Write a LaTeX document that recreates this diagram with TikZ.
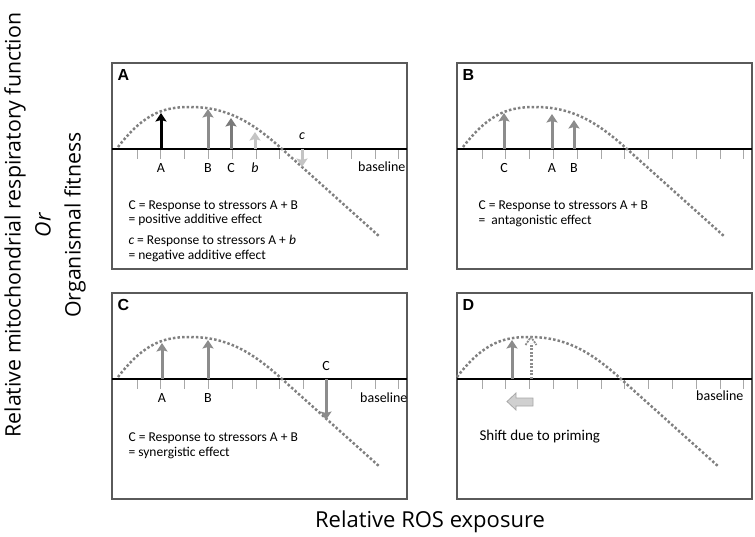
\documentclass[tikz,border=0pt]{standalone}
\usepackage{fontspec}
\setmainfont{Carlito}
\newfontfamily\panelfont{Liberation Sans}
\newfontfamily\titlefont{Open Sans}
\usetikzlibrary{arrows.meta}
\definecolor{boxgray}{HTML}{5A5A5A}
\definecolor{tickgray}{HTML}{A8A8A8}
\definecolor{curvegray}{HTML}{808080}
\definecolor{midgray}{HTML}{8C8C8C}
\definecolor{darkgray}{HTML}{7A7A7A}
\definecolor{lightgray}{HTML}{C4C4C4}
% frame, axis and ticks of one panel
\newcommand{\panelbox}{%
  \draw[frame] (112,63) rectangle (407,269);
  \draw[axis] (112,149) -- (407,149);
  \foreach \k in {0,...,11} \draw[tick] ({137+23.8*\k},150) -- ++(0,9);
}
% response curve
\newcommand{\roscurve}{%
  \draw[curve] (118,147) .. controls (145,112) and (165,107) .. (190,107)
    .. controls (225,107) and (250,120) .. (282,149) -- (380,237);
}
\begin{document}
\begin{tikzpicture}[x=1pt,y=-1pt,
  frame/.style={draw=boxgray,line width=1.2pt},
  axis/.style={line width=1.4pt},
  tick/.style={draw=tickgray,line width=0.8pt},
  curve/.style={draw=curvegray,line width=2.5pt,dash pattern=on 2.5pt off 2.1pt},
  up/.style={line width=3pt,-{Stealth[width=11pt,length=8.5pt,inset=1.5pt]}},
  lbl/.style={font=\fontsize{14}{16}\selectfont},
  note/.style={font=\fontsize{13.5}{14.5}\selectfont,align=left,anchor=west},
  letter/.style={font=\panelfont\bfseries\fontsize{16}{16}\selectfont},
  big/.style={font=\titlefont\fontsize{22}{30}\selectfont}]
\useasboundingbox (0,0) rectangle (755,536);

% A
\panelbox
\roscurve
\node[letter] (pA) at (123.5,74.5) {A};
\coordinate (a0) at (161,149); \coordinate (a1) at (161,113);
\coordinate (b0) at (208,149); \coordinate (b1) at (208,109);
\coordinate (c0) at (231,149); \coordinate (c1) at (231,118);
\coordinate (d0) at (255,149); \coordinate (d1) at (255,132);
\coordinate (e0) at (302,149); \coordinate (e1) at (302,167);
\draw[up,black] (a0) -- (a1);
\draw[up,midgray] (b0) -- (b1);
\draw[up,darkgray] (c0) -- (c1);
\draw[up,lightgray] (d0) -- (d1);
\draw[up,lightgray] (e0) -- (e1);
\node[lbl] (lA) at (161,168) {A};
\node[lbl] (lB) at (208,168) {B};
\node[lbl] (lC) at (231,168) {C};
\node[lbl] (lb) at (255,168) {\textit{b}};
\node[lbl] (lc) at (302,136) {\textit{c}};
\node[lbl,anchor=east] (baseA) at (409,167) {baseline};
\node[note] (tA1) at (125,213) {C = Response to stressors A + B\\= positive additive effect};
\node[note] (tA2) at (125,248.5) {\textit{c} = Response to stressors A + \textit{b}\\= negative additive effect};

% B
\begin{scope}[shift={(345,0)}]
\panelbox
\roscurve
\node[letter] (pB) at (123.5,74.5) {B};
\coordinate (f0) at (159,149); \coordinate (f1) at (159,113);
\coordinate (g0) at (207,149); \coordinate (g1) at (207,114);
\coordinate (h0) at (229,149); \coordinate (h1) at (229,120);
\draw[up,midgray] (f0) -- (f1);
\draw[up,midgray] (g0) -- (g1);
\draw[up,midgray] (h0) -- (h1);
\node[lbl] (mC) at (159,168) {C};
\node[lbl] (mA) at (207,168) {A};
\node[lbl] (mB) at (229,168) {B};
\node[note] (tB) at (130,214) {C = Response to stressors A + B\\=\ \ antagonistic effect};
\end{scope}

% C
\begin{scope}[shift={(0,230)}]
\panelbox
\roscurve
\node[letter] (pC) at (123.5,74.5) {C};
\coordinate (i0) at (162,149); \coordinate (i1) at (162,113);
\coordinate (j0) at (208,149); \coordinate (j1) at (208,110);
\coordinate (k0) at (326,149); \coordinate (k1) at (326,190);
\draw[up,midgray] (i0) -- (i1);
\draw[up,midgray] (j0) -- (j1);
\draw[up,midgray] (k0) -- (k1);
\node[lbl] (nA) at (162,168) {A};
\node[lbl] (nB) at (208,168) {B};
\node[lbl] (nC) at (326,136) {C};
\node[lbl,anchor=east] (baseC) at (411,168) {baseline};
\node[note,font=\fontsize{13.5}{15}\selectfont] (tC) at (125,215.5) {C = Response to stressors A + B\\= synergistic effect};
\end{scope}

% D
\begin{scope}[shift={(345,230)}]
\panelbox
\begin{scope}[xshift=-6]
\roscurve
\end{scope}
\node[letter] (pD) at (123.5,74.5) {D};
\coordinate (p0) at (167,149); \coordinate (p1) at (167,110);
\coordinate (q0) at (186,149); \coordinate (q1) at (186,107);
\draw[up,midgray] (p0) -- (p1);
\draw[midgray,line width=3pt,dash pattern=on 2pt off 1.6pt] (q0) -- (186,113);
\draw[midgray,line width=1.8pt,dash pattern=on 2pt off 1pt] (180.5,115) -- (q1) -- (191.5,115);
\draw[fill=lightgray!80,draw=tickgray,line width=0.8pt]
  (162,171.5) -- (171,163) -- (171,168) -- (188,168) -- (188,176) -- (171,176) -- (171,180) -- cycle;
\node[lbl,anchor=east] (baseD) at (402,166) {baseline};
\node[font=\fontsize{15}{17}\selectfont,anchor=west] (tD) at (131,207) {Shift due to priming};
\end{scope}

% axis titles
\node[big,font=\titlefont\fontsize{21.3}{30}\selectfont,rotate=90,align=center] (ylab) at (45,225) {Relative mitochondrial respiratory function\\\textit{Or}\\Organismal fitness};
\node[big] (xlab) at (430,522) {Relative ROS exposure};
\end{tikzpicture}
\end{document}
